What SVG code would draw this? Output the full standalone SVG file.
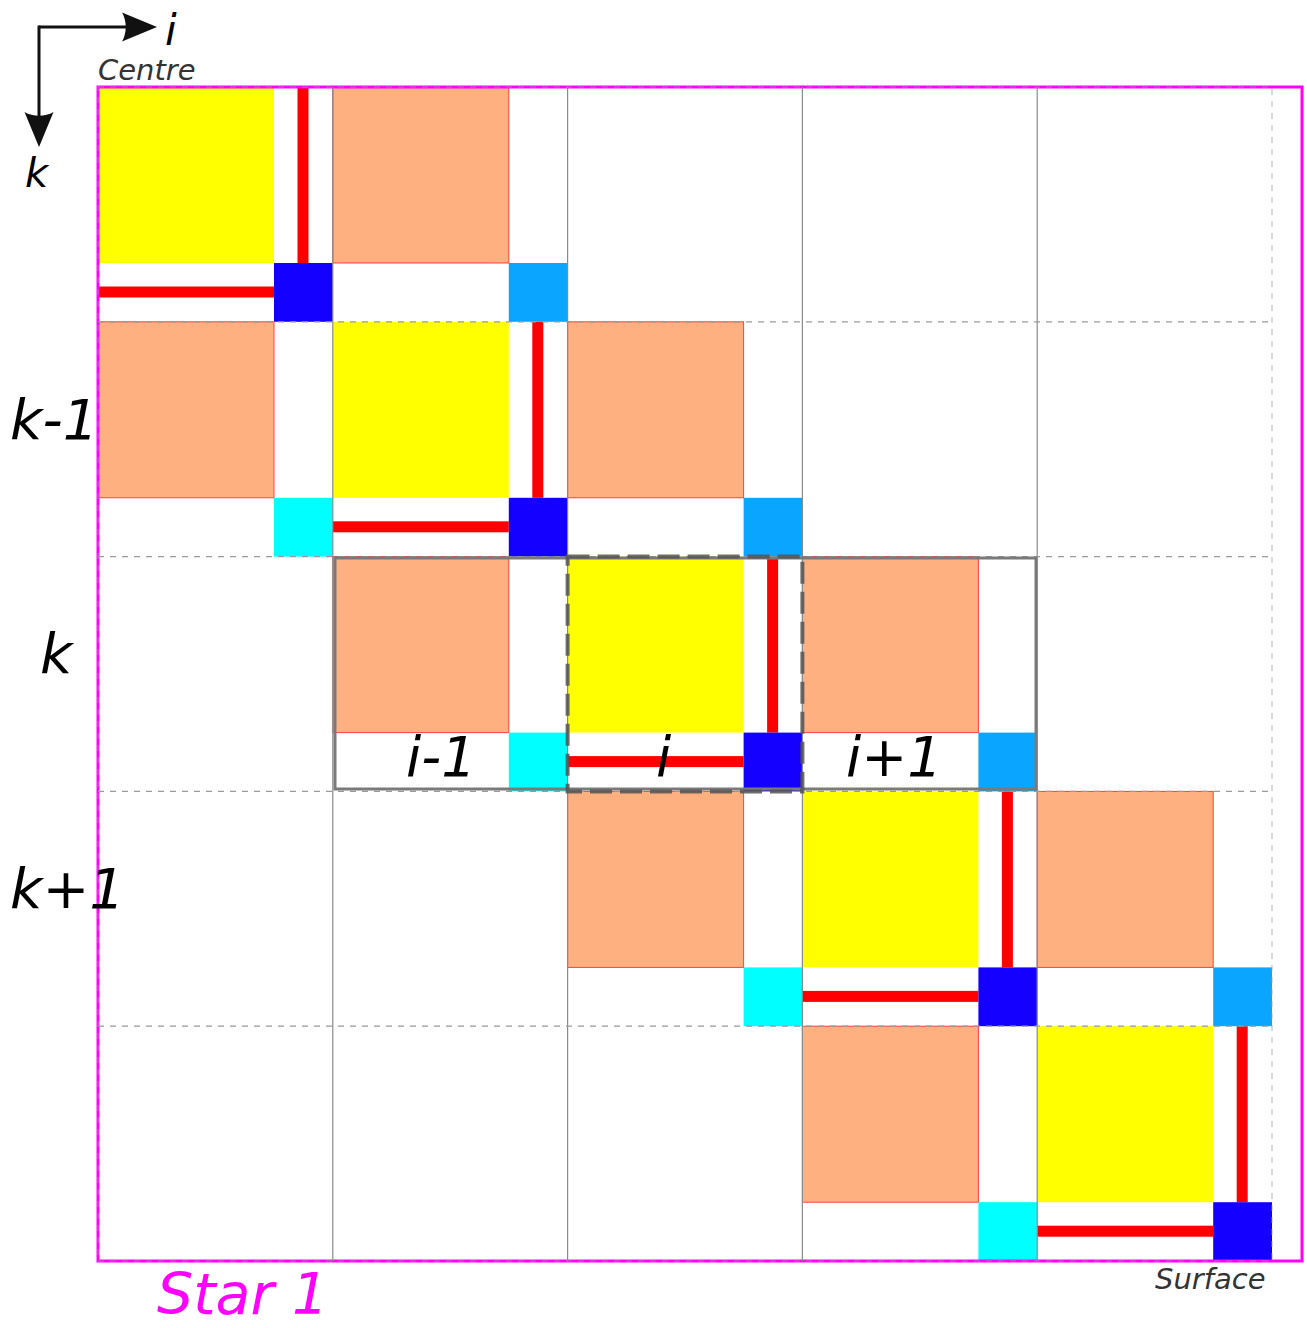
<svg xmlns="http://www.w3.org/2000/svg" width="1307" height="1328" viewBox="0 0 1307 1328">
  <defs>
    <style>
      .yel{fill:#ffff00}
      .org{fill:#ffb080;stroke:#ff4040;stroke-width:1}
      .blue{fill:#1400ff}
      .sky{fill:#0aa5ff}
      .cyan{fill:#00ffff}
      .bar{fill:#ff0000}
      .vline{stroke:#8a8a8a;stroke-width:1.2;fill:none}
      .hline{stroke:#9a9a9a;stroke-width:1.2;stroke-dasharray:6 6;fill:none}
      .lbl{font-family:"DejaVu Sans","Liberation Sans",sans-serif;font-style:italic;fill:#000}
      .note{font-family:"DejaVu Sans","Liberation Sans",sans-serif;font-style:italic;fill:#333;font-size:29px}
    </style>
    <!-- filled arrowhead with a concave back -->
    <marker id="arrowhead" markerUnits="userSpaceOnUse" orient="auto" refX="0" refY="0" markerWidth="40" markerHeight="40" overflow="visible">
      <path d="M22,0 L-13,-14.5 C-8,-6 -8,6 -13,14.5 Z" fill="#111"/>
    </marker>
    <!-- cell pieces, in cell-local coordinates (cell size 234.8) -->
    <rect id="bigsq" x="0" y="0" width="176" height="176"/>
    <rect id="corner" x="176" y="176" width="58.8" height="58.8"/>
    <rect id="vbar" x="199.5" y="0" width="11" height="176"/>
    <rect id="hbar" x="0" y="199.5" width="176" height="11"/>
  </defs>

  <rect x="0" y="0" width="1307" height="1328" fill="#fff"/>

  <!-- diagonal cells: yellow block, red bars, blue corner -->
  <g id="cell-0-0" transform="translate(98,87)">
    <use href="#bigsq" class="yel"/><use href="#vbar" class="bar"/><use href="#hbar" class="bar"/><use href="#corner" class="blue"/>
  </g>
  <g id="cell-1-1" transform="translate(332.8,321.8)">
    <use href="#bigsq" class="yel"/><use href="#vbar" class="bar"/><use href="#hbar" class="bar"/><use href="#corner" class="blue"/>
  </g>
  <g id="cell-2-2" transform="translate(567.6,556.6)">
    <use href="#bigsq" class="yel"/><use href="#vbar" class="bar"/><use href="#hbar" class="bar"/><use href="#corner" class="blue"/>
  </g>
  <g id="cell-3-3" transform="translate(802.4,791.4)">
    <use href="#bigsq" class="yel"/><use href="#vbar" class="bar"/><use href="#hbar" class="bar"/><use href="#corner" class="blue"/>
  </g>
  <g id="cell-4-4" transform="translate(1037.2,1026.2)">
    <use href="#bigsq" class="yel"/><use href="#vbar" class="bar"/><use href="#hbar" class="bar"/><use href="#corner" class="blue"/>
  </g>

  <!-- neighbours to the right (outer side): orange block, sky-blue corner -->
  <g id="cell-1-0" transform="translate(332.8,87)">
    <use href="#bigsq" class="org"/><use href="#corner" class="sky"/>
  </g>
  <g id="cell-2-1" transform="translate(567.6,321.8)">
    <use href="#bigsq" class="org"/><use href="#corner" class="sky"/>
  </g>
  <g id="cell-3-2" transform="translate(802.4,556.6)">
    <use href="#bigsq" class="org"/><use href="#corner" class="sky"/>
  </g>
  <g id="cell-4-3" transform="translate(1037.2,791.4)">
    <use href="#bigsq" class="org"/><use href="#corner" class="sky"/>
  </g>

  <!-- neighbours to the left (inner side): orange block, cyan corner -->
  <g id="cell-0-1" transform="translate(98,321.8)">
    <use href="#bigsq" class="org"/><use href="#corner" class="cyan"/>
  </g>
  <g id="cell-1-2" transform="translate(332.8,556.6)">
    <use href="#bigsq" class="org"/><use href="#corner" class="cyan"/>
  </g>
  <g id="cell-2-3" transform="translate(567.6,791.4)">
    <use href="#bigsq" class="org"/><use href="#corner" class="cyan"/>
  </g>
  <g id="cell-3-4" transform="translate(802.4,1026.2)">
    <use href="#bigsq" class="org"/><use href="#corner" class="cyan"/>
  </g>

  <!-- star outline -->
  <rect id="star-outline" x="98" y="87" width="1204" height="1174" fill="none" stroke="#ff00ff" stroke-width="3"/>

  <!-- grid -->
  <g id="grid">
    <line class="vline" x1="332.8" y1="87" x2="332.8" y2="1261"/>
    <line class="vline" x1="567.6" y1="87" x2="567.6" y2="1261"/>
    <line class="vline" x1="802.4" y1="87" x2="802.4" y2="1261"/>
    <line class="vline" x1="1037.2" y1="87" x2="1037.2" y2="1261"/>
    <line class="hline" x1="98" y1="321.8" x2="1272" y2="321.8"/>
    <line class="hline" x1="98" y1="556.6" x2="1272" y2="556.6"/>
    <line class="hline" x1="98" y1="791.4" x2="1272" y2="791.4"/>
    <line class="hline" x1="98" y1="1026.2" x2="1272" y2="1026.2"/>
    <rect class="hline" x="98" y="87" width="1174" height="1174" stroke-opacity="0.6"/>
  </g>

  <!-- highlighted row k and cell (i,k) -->
  <rect id="row-k" x="335" y="558" width="701" height="231" fill="none" stroke="#7a7a7a" stroke-width="3"/>
  <rect id="cell-i-k" x="567.6" y="556.6" width="234.8" height="234.8" fill="none" stroke="#555" stroke-opacity="0.85" stroke-width="4" stroke-dasharray="22 8"/>

  <!-- axes -->
  <g id="axes" stroke="#111" stroke-width="3" fill="none">
    <line x1="39" y1="27" x2="135" y2="27" marker-end="url(#arrowhead)"/>
    <line x1="39" y1="25.5" x2="39" y2="125" marker-end="url(#arrowhead)"/>
  </g>

  <!-- labels -->
  <g id="labels">
    <text class="lbl" x="165" y="45" font-size="42">i</text>
    <text class="lbl" x="25" y="187" font-size="40">k</text>
    <text class="note" x="98" y="80">Centre</text>
    <text class="note" x="1155" y="1289">Surface</text>
    <text class="lbl" x="157" y="1314" font-size="57" style="fill:#ff00ff">Star 1</text>
    <text class="lbl" x="10" y="439" font-size="56">k-1</text>
    <text class="lbl" x="40" y="673" font-size="56">k</text>
    <text class="lbl" x="10" y="908" font-size="56">k+1</text>
    <text class="lbl" x="406" y="776" font-size="55">i-1</text>
    <text class="lbl" x="656" y="776" font-size="55">i</text>
    <text class="lbl" x="846" y="776" font-size="55">i+1</text>
  </g>
</svg>
